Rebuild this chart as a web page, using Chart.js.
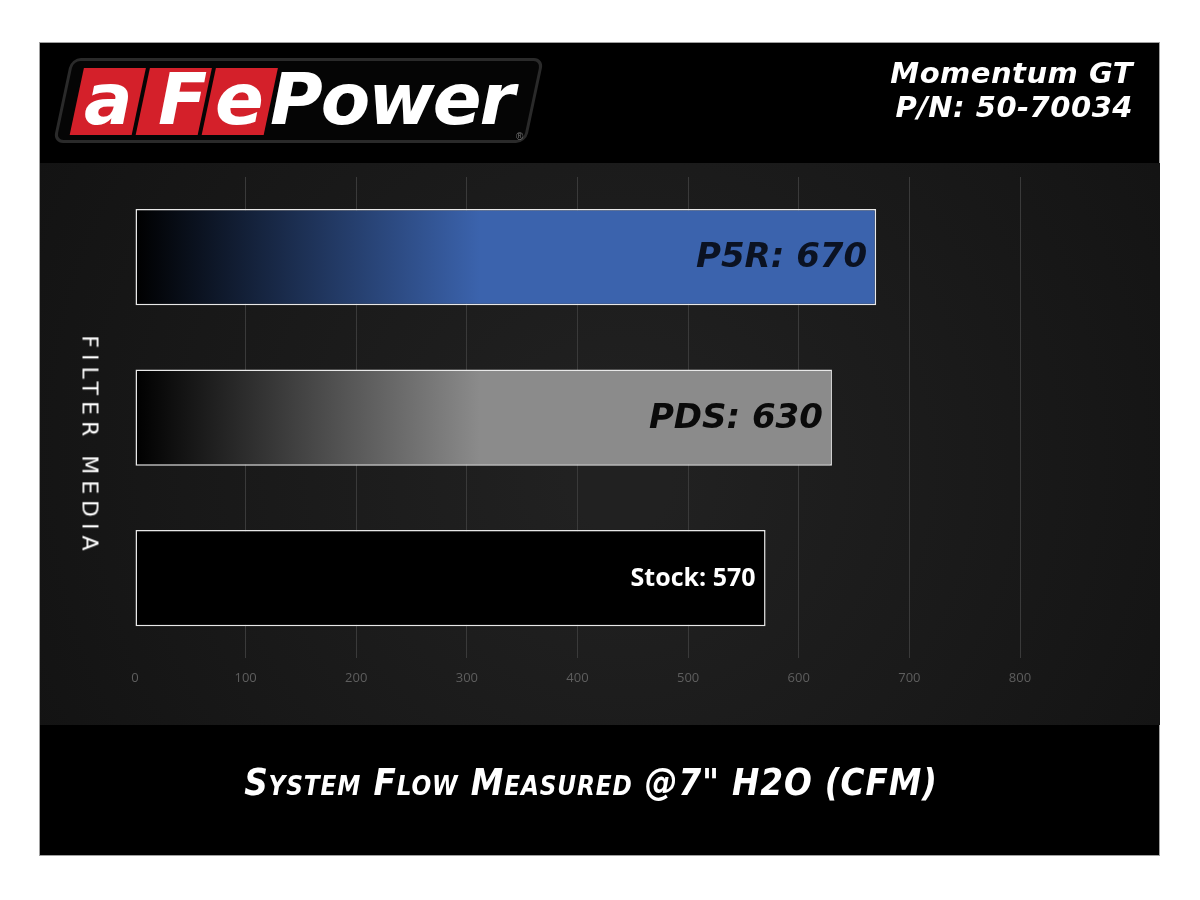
<!DOCTYPE html>
<html>
<head>
<meta charset="utf-8">
<script src="https://cdn.jsdelivr.net/npm/chart.js@4.4.1/dist/chart.umd.min.js"></script>
<style>
  html, body { margin: 0; padding: 0; background: #fff; }
  #wrap { position: relative; width: 1200px; height: 900px; overflow: hidden; }
  #chart { position: absolute; left: 0; top: 0; }
  .txt { position: absolute; color: #fff; white-space: nowrap; }
  #model { right: 67px; top: 56px; text-align: right; font: italic bold 29px "DejaVu Sans", sans-serif; line-height: 34px; letter-spacing: 0.5px; }
  #ytitle { left: 90px; top: 446px; transform: translate(-50%, -50%) rotate(90deg); font: 22px "DejaVu Sans", sans-serif; letter-spacing: 6px; }
  #xtitle { left: 591px; top: 782px; transform: translate(-50%, -50%) scaleX(0.86); font: italic bold 38px "DejaVu Sans", sans-serif; font-variant: small-caps; letter-spacing: 1px; }
  #logo { position: absolute; left: 62px; top: 58px; width: 467px; height: 79px; background: #050505; border: 3px solid #2a2a2a; border-radius: 10px; transform: skewX(-12deg); }
  .red { position: absolute; top: 7px; width: 62px; height: 67px; background: #d4202a; }
  .lg { position: absolute; color: #fff; font: italic bold 72px "DejaVu Sans", sans-serif; line-height: 80px; }
</style>
</head>
<body>
<div id="wrap">
  <canvas id="chart" width="1200" height="900"></canvas>
  <div id="logo">
    <div class="red" style="left:12px"></div>
    <div class="red" style="left:78px"></div>
    <div class="red" style="left:144px"></div>
  </div>
  <div class="lg" style="left:84px; top:59px;">a</div>
  <div class="lg" style="left:158px; top:59px;">F</div>
  <div class="lg" style="left:215px; top:59px;">e</div>
  <div class="lg" style="left:270px; top:59px; letter-spacing:-2px;">Power</div>
  <div class="txt" style="left:516px; top:131px; font: 10px sans-serif; color:#777;">®</div>
  <div class="txt" id="model">Momentum GT<br>P/N: 50-70034</div>
  <div class="txt" id="ytitle">FILTER MEDIA</div>
  <div class="txt" id="xtitle">System Flow Measured @7" H2O (CFM)</div>
</div>
<script>
const categories = ['P5R', 'PDS', 'Stock'];
const flowValues = [670, 630, 570];
const tickValues = [0, 100, 200, 300, 400, 500, 600, 700, 800];

const barEnds = ['#3b63ad', '#8b8b8b', '#000000'];
const labelColors = ['#0b1222', '#0a0a0a', '#ffffff'];

function barFill(context) {
  const chart = context.chart;
  const area = chart.chartArea;
  if (!area) return '#000';
  const i = context.dataIndex;
  if (i === 2) return '#000000';
  const g = chart.ctx.createLinearGradient(area.left, 0, area.left + 345, 0);
  g.addColorStop(0, '#000000');
  g.addColorStop(1, barEnds[i]);
  return g;
}

const backdrop = {
  id: 'backdrop',
  beforeDraw(chart) {
    const ctx = chart.ctx;
    ctx.save();
    ctx.fillStyle = '#ffffff';
    ctx.fillRect(0, 0, chart.width, chart.height);
    ctx.fillStyle = '#000000';
    ctx.fillRect(40, 42, 1120, 813);
    ctx.strokeStyle = '#a0a0a0';
    ctx.lineWidth = 1;
    ctx.strokeRect(39.5, 42.5, 1120, 813);
    const rg = ctx.createRadialGradient(620, 480, 50, 620, 450, 650);
    rg.addColorStop(0, '#212121');
    rg.addColorStop(1, '#131313');
    ctx.fillStyle = rg;
    ctx.fillRect(40, 163, 1120, 562);
    ctx.restore();
  }
};

const barLabels = {
  id: 'barLabels',
  afterDatasetsDraw(chart) {
    const ctx = chart.ctx;
    const meta = chart.getDatasetMeta(0);
    ctx.save();
    ctx.textAlign = 'right';
    ctx.textBaseline = 'middle';
    meta.data.forEach((bar, i) => {
      const text = categories[i] + ': ' + flowValues[i];
      ctx.fillStyle = labelColors[i];
      if (i === 2) {
        ctx.font = 'bold 25px "Open Sans", sans-serif';
        ctx.fillText(text, bar.x - 10, bar.y + 1);
      } else {
        ctx.font = 'italic bold 34px "DejaVu Sans", sans-serif';
        ctx.fillText(text, bar.x - 9, bar.y + 1);
      }
    });
    ctx.restore();
  }
};

new Chart(document.getElementById('chart'), {
  type: 'bar',
  data: {
    labels: categories,
    datasets: [{
      data: flowValues,
      backgroundColor: barFill,
      borderColor: '#e8e8e8',
      borderWidth: 1.5,
      borderSkipped: false,
      barPercentage: 0.6,
      categoryPercentage: 1.0
    }]
  },
  options: {
    indexAxis: 'y',
    responsive: false,
    animation: false,
    events: [],
    layout: { padding: { left: 135, right: 180, top: 177, bottom: 202 } },
    plugins: { legend: { display: false }, tooltip: { enabled: false } },
    scales: {
      x: {
        min: 0,
        max: 800,
        afterBuildTicks(axis) { axis.ticks = tickValues.map(v => ({ value: v })); },
        grid: {
          color: (c) => c.index === 0 ? 'rgba(0,0,0,0)' : '#3a3a3a',
          lineWidth: 1,
          drawTicks: false
        },
        border: { display: false },
        ticks: { color: '#5e5e5e', font: { family: 'Open Sans', size: 13 }, padding: 12 }
      },
      y: { display: false }
    }
  },
  plugins: [backdrop, barLabels]
});
</script>
</body>
</html>
